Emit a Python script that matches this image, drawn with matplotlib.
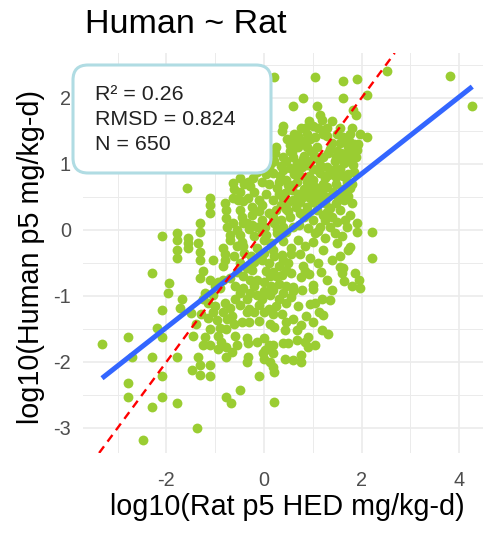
import numpy as np
import matplotlib
matplotlib.use("Agg")
import matplotlib.pyplot as plt
from matplotlib.patches import FancyBboxPatch
from matplotlib.ticker import MultipleLocator

plt.rcParams['font.family'] = ['Liberation Sans', 'DejaVu Sans']
plt.rcParams['axes.unicode_minus'] = False

# log10 values, grouped by human-dose band (top -> bottom)
top_x = [0.21, 1.05, 1.61, 1.90, 2.52, 3.82, 4.27, 0.81, 1.61, 2.11, 0.60, 1.08, 1.82, 1.89,
         1.15, 1.18, 0.38, 1.01, 1.22, 1.76, 1.97, 2.11, 0.36, 0.70, 0.78, 1.20, 1.39, 1.56,
         1.66, 0.88, 0.95, 0.62]
top_y = [2.31, 2.31, 2.25, 2.28, 2.40, 2.33, 1.87, 2.00, 2.00, 2.05, 1.87, 1.87, 1.82, 1.74,
         1.74, 1.67, 1.58, 1.57, 1.52, 1.46, 1.46, 1.40, 1.50, 1.43, 1.34, 1.45, 1.31, 1.31,
         1.36, 1.45, 1.38, 1.35]

b1_x = [1.72, 1.91, 1.93, 0.53, 0.53, 0.88, 0.97, 1.02, 0.23, 0.39, 0.15, 0.60, 0.67, 0.54,
        1.31, 1.47, 1.58, 1.76, 0.88, 1.00, 1.15, 1.83, 0.05, 0.10, 0.35, 0.80, 1.10, 1.65,
        1.30, 0.72, 1.45, 0.25]
b1_y = [1.26, 1.21, 1.30, 1.28, 1.20, 1.26, 1.20, 1.14, 1.17, 1.10, 1.02, 1.11, 1.02, 0.94,
        1.17, 1.10, 1.17, 1.17, 0.98, 0.92, 0.98, 0.98, 1.15, 0.95, 0.97, 1.07, 1.08, 1.02,
        0.95, 0.93, 0.93, 1.25]

b2_x = [1.85, 0.18, 0.32, 0.46, 0.74, 0.88, 1.00, 1.31, 1.47, 1.62, 1.70, 1.76, -0.49, -0.33,
        -0.22, -0.05, 0.05, -0.64, -0.40, -0.29, 1.20, 0.60, 0.27, 0.57, 0.88, 1.05, -0.15,
        1.15, -1.58, -0.62]
b2_y = [0.88, 0.86, 0.81, 0.76, 0.81, 0.73, 0.76, 0.83, 0.80, 0.81, 0.73, 0.63, 0.78, 0.72,
        0.78, 0.72, 0.85, 0.71, 0.70, 0.66, 0.70, 0.68, 0.64, 0.61, 0.61, 0.65, 0.88, 0.86,
        0.63, 0.62]

b3_x = [0.43, 1.21, 1.42, 1.52, 0.18, 0.35, 0.49, 0.74, 0.88, 1.00, 1.25, 1.35, 1.65, 1.80,
        -0.64, -0.54, -0.43, -0.33, -0.11, -0.05, -0.80, -1.11, -1.11, -0.25, 0.05, -0.20,
        0.70, 1.05, 0.30, 1.60, -0.50, 0.95]
b3_y = [0.56, 0.53, 0.58, 0.50, 0.45, 0.38, 0.42, 0.42, 0.35, 0.42, 0.41, 0.33, 0.45, 0.40,
        0.48, 0.46, 0.44, 0.48, 0.45, 0.38, 0.40, 0.48, 0.38, 0.35, 0.55, 0.58, 0.55, 0.55,
        0.55, 0.58, 0.58, 0.48]

b4_x = [0.18, 0.35, 0.53, 0.74, 0.88, 1.00, 1.29, 1.40, 1.49, 1.66, 1.76, -0.49, -0.46, -0.43,
        -0.25, -0.25, -0.10, -0.05, 0.02, -0.78, -0.78, -0.76, -1.11, -0.64, -0.30, 0.60, 0.27,
        0.90, 1.15, 1.90, -1.31, 0.10, 1.20, 0.50]
b4_y = [0.20, 0.15, 0.20, 0.25, 0.30, 0.15, 0.27, 0.20, 0.12, 0.15, 0.22, 0.30, 0.20, 0.11,
        0.22, 0.08, 0.28, 0.15, 0.05, 0.30, 0.18, 0.05, 0.25, 0.10, 0.02, 0.05, 0.02, 0.03,
        0.05, 0.10, 0.10, 0.25, 0.22, 0.28]

b5_x = [-0.70, -0.70, -0.49, -0.45, -0.43, -0.20, 0.00, 0.15, 0.40, 0.70, 1.00, 1.25, 1.76,
        -1.56, -1.35, -0.84, -0.15, 0.55, 0.85, 1.50, -1.55, 0.45, 1.45, 1.91, -0.55, 0.27,
        -2.10, -1.79, -1.79, 2.21, -1.31, 1.10, -0.05]
b5_y = [-0.08, -0.15, -0.08, -0.18, -0.25, -0.10, -0.15, -0.20, -0.17, -0.15, -0.18, -0.12,
        -0.26, -0.20, -0.20, -0.27, -0.28, -0.28, -0.25, -0.20, -0.13, -0.03, -0.05, -0.03,
        0.00, -0.05, -0.10, -0.05, -0.15, -0.03, -0.03, -0.02, -0.02]

b6_x = [1.72, -0.80, -0.80, -1.31, -1.31, 0.18, 0.37, 0.55, 0.74, 0.95, 1.21, -0.27, -0.20,
        -0.05, 0.10, 0.30, 0.50, 0.80, 1.10, 1.40, 1.56, -0.50, -0.35, -1.56, -1.79, -1.78,
        1.56, 2.21, 1.63, -0.84, -0.62, 0.00, -1.05]
b6_y = [-0.30, -0.36, -0.45, -0.33, -0.45, -0.30, -0.38, -0.36, -0.36, -0.42, -0.30, -0.40,
        -0.48, -0.45, -0.50, -0.55, -0.50, -0.55, -0.50, -0.45, -0.56, -0.50, -0.58, -0.27,
        -0.30, -0.42, -0.40, -0.43, -0.58, -0.55, -0.40, -0.35, -0.45]

b7_x = [-1.31, -1.11, -0.95, -0.84, -0.70, -1.00, -0.90, -0.55, -0.42, -0.29, -0.15, 0.00,
        0.12, 0.18, 0.37, 0.55, 0.76, 0.93, 1.17, 1.29, 1.60, 1.65, 1.80, -0.60, -0.20, 0.30,
        0.60, 1.00, 1.87, 1.94, -2.30, -1.94, -1.25, -0.42, 0.85]
b7_y = [-0.73, -0.76, -0.79, -0.76, -0.73, -0.85, -0.88, -0.64, -0.70, -0.76, -0.76, -0.79,
        -0.70, -0.64, -0.68, -0.66, -0.72, -0.67, -0.64, -0.76, -0.65, -0.78, -0.85, -0.85,
        -0.85, -0.82, -0.86, -0.84, -0.66, -0.76, -0.65, -0.80, -0.62, -0.88, -0.62]

b8_x = [1.96, -0.29, -0.15, 0.00, 0.12, 0.18, 0.40, 0.60, 0.78, 1.00, 1.35, 1.39, 1.19, 1.05,
        -1.72, -1.15, -1.00, -0.80, -0.60, -0.50, -0.30, -0.10, 0.10, 0.25, 0.45, 0.70, 0.95,
        -1.97, -1.69, -0.70, 0.55, -1.20]
b8_y = [-0.88, -0.95, -0.98, -0.93, -0.98, -0.91, -0.96, -0.93, -0.91, -0.90, -1.06, -0.91,
        -1.04, -1.11, -1.18, -1.10, -1.15, -1.10, -1.05, -1.14, -1.20, -1.14, -1.20, -1.15,
        -1.10, -1.15, -1.12, -0.96, -1.04, -1.18, -1.02, -0.95]

b9_x = [-2.10, -1.50, -1.30, -1.15, -1.04, -0.97, -0.90, -0.65, -0.62, -0.35, -0.20, 0.00,
        -0.30, -0.10, 0.12, 0.18, 0.37, 0.60, 0.75, 0.87, 1.00, 1.12, 0.20, 0.45, 1.22, -2.20,
        -0.77, -1.40]
b9_y = [-1.21, -1.26, -1.28, -1.33, -1.24, -1.36, -1.48, -1.30, -1.42, -1.25, -1.24, -1.25,
        -1.40, -1.38, -1.42, -1.28, -1.28, -1.35, -1.44, -1.30, -1.40, -1.25, -1.47, -1.40,
        -1.29, -1.49, -1.50, -1.42]

b10_x = [1.19, 1.32, 0.91, 0.91, 0.67, 0.67, 0.50, 0.43, 0.19, -0.01, 0.02, 0.19, -0.32,
         -0.32, -0.77, -0.77, -1.35, -1.79, -2.30, -2.71, -2.78, -3.32, -2.10, -1.11, -0.95,
         -0.88, -0.66, -0.35, -0.15, 0.00, 0.10, 0.00, 0.40, 0.85, 1.05, 0.43, 0.60, 0.75,
         -1.45, -1.20]
b10_y = [-1.52, -1.57, -1.62, -1.77, -1.52, -1.67, -1.72, -1.52, -1.87, -1.87, -1.82, -1.75,
         -1.72, -1.92, -1.92, -1.77, -1.92, -1.92, -1.92, -1.92, -1.62, -1.73, -1.62, -1.74,
         -1.80, -1.70, -1.85, -1.64, -1.70, -1.64, -1.74, -1.96, -1.72, -1.70, -1.75, -1.95,
         -1.97, -1.90, -1.60, -1.62]

low_x = [-0.10, 0.21, -0.49, -0.77, -0.68, -1.11, -1.11, -1.31, -1.31, -1.48, -1.38, -1.79,
         -2.10, -2.10, -2.30, -2.49, -2.78, -2.78, 0.18, 0.20, -0.35, 0.12, 0.75]
low_y = [-2.22, -2.61, -2.42, -2.53, -2.63, -2.22, -2.05, -2.20, -2.05, -2.12, -3.00, -2.63,
         -2.22, -2.53, -2.68, -3.18, -2.32, -2.53, -2.08, -2.15, -2.00, -2.00, -2.00]

# overplotted points in the dense upper-right core
core_hi_x = [0.45, 0.58, 0.70, 0.82, 0.95, 1.08, 1.22, 1.35, 1.50, 1.62, 0.40, 0.62, 0.78, 0.92,
             1.10, 1.25, 1.40, 1.55, 1.72, 0.30, 0.50, 0.68, 0.82, 0.98, 1.12, 1.30, 1.48, 1.62,
             1.80, 0.40, 0.60, 0.80, 0.95, 1.12, 1.30, 1.48, 1.72, 0.25, 0.45, 0.65, 0.82, 1.08,
             1.25, 1.55, 1.70, 0.38, 0.72, 1.05, 1.35, 1.60, 0.62, 0.85, 1.05, 1.30, 0.48, 0.92,
             1.45, 1.75, 0.20, 0.10, 1.50, 1.62, 1.75, 1.85, 1.55, 1.30, 1.70, 1.88, 1.40, 1.10,
             0.75, 1.80]
core_hi_y = [1.05, 1.18, 1.25, 1.12, 1.05, 1.25, 1.10, 1.22, 1.20, 1.08, 0.90, 0.85, 0.95, 0.82,
             0.90, 0.78, 0.85, 0.92, 0.85, 0.72, 0.68, 0.72, 0.62, 0.68, 0.60, 0.65, 0.70, 0.62,
             0.70, 0.48, 0.45, 0.50, 0.58, 0.45, 0.50, 0.40, 0.52, 0.30, 0.32, 0.35, 0.20, 0.30,
             0.15, 0.30, 0.05, 0.05, 0.08, -0.05, 0.05, -0.10, 1.45, 1.55, 1.40, 1.42, 1.38, 1.65,
             1.05, 1.05, 1.05, 0.70, 1.45, 1.40, 1.35, 1.30, 1.55, 1.55, 1.15, 1.10, 1.65, 1.55,
             1.55, 1.55]

# overplotted points in the middle and lower-left core
core_lo_x = [-0.35, -0.15, 0.05, 0.20, 0.35, -0.40, -0.10, 0.20, 0.40, -0.55, -0.25, 0.05,
             0.25, 0.45, -0.05, 0.30, -0.35, 0.15, -0.50, 0.45, -1.25, -1.05, -0.85, -0.75,
             -1.10, -0.95, -0.60, -0.55, -1.25, -0.45]
core_lo_y = [0.10, 0.05, -0.08, 0.10, -0.10, -0.35, -0.40, -0.40, -0.45, -0.25, -0.60, -0.62,
             -0.70, -0.60, -1.05, -1.05, -1.05, -0.85, -0.95, -0.85, -1.05, -0.98, -1.25, -1.35,
             -1.50, -1.60, -1.60, -1.75, -1.75, -1.40]

rat = np.array(top_x + b1_x + b2_x + b3_x + b4_x + b5_x + b6_x + b7_x + b8_x + b9_x + b10_x
               + low_x + core_hi_x + core_lo_x)
human = np.array(top_y + b1_y + b2_y + b3_y + b4_y + b5_y + b6_y + b7_y + b8_y + b9_y + b10_y
                 + low_y + core_hi_y + core_lo_y)

stats_lines = ["R\u00b2 = 0.26", "RMSD = 0.824", "N = 650"]

fig = plt.figure(figsize=(4.83, 5.42), dpi=100)
ax = fig.add_axes([83 / 483, 89 / 542, 400 / 483, 400 / 542])
ax.set_xlim(-3.71, 4.49)
ax.set_ylim(-3.38, 2.68)

ax.xaxis.set_major_locator(MultipleLocator(2))
ax.xaxis.set_minor_locator(MultipleLocator(1))
ax.yaxis.set_major_locator(MultipleLocator(1))
ax.yaxis.set_minor_locator(MultipleLocator(0.5))
ax.grid(which='major', color='#EBEBEB', lw=1.2)
ax.grid(which='minor', color='#EBEBEB', lw=0.7)
ax.set_axisbelow(True)
for s in ax.spines.values():
    s.set_visible(False)
ax.tick_params(which='both', length=0)
ax.tick_params(axis='x', pad=13, labelsize=14.3, labelcolor='#4D4D4D')
ax.tick_params(axis='y', pad=8.6, labelsize=14.3, labelcolor='#4D4D4D')

ax.scatter(rat, human, s=50, color='#9ACD32', linewidths=0, zorder=2)

# least-squares fit, drawn over the data range
slope, intercept = np.polyfit(rat, human, 1)
xs = np.array([rat.min(), rat.max()])
ax.plot(xs, intercept + slope * xs, color='#3366FF', lw=3.6, solid_capstyle='butt', zorder=3)
# identity line
ax.axline((0, 0), slope=1, color='red', lw=1.7, dashes=(3.5, 2.5), zorder=4)

ax.set_xlabel('log10(Rat p5 HED mg/kg-d)', fontsize=20.7)
ax.xaxis.set_label_coords(0.51, -0.155)
ax.xaxis.label.set_va('baseline')
ax.set_ylabel('log10(Human p5 mg/kg-d)', fontsize=20.7)
ax.yaxis.set_label_coords(-0.131, 0.49)
ax.yaxis.label.set_va('center')

fig.text(85 / 483, 1 - 33 / 542, 'Human ~ Rat', fontsize=24.5, va='baseline')

box = FancyBboxPatch((0.73, 3.69), 1.98, 1.08, boxstyle='round,pad=0,rounding_size=0.15',
                     transform=fig.dpi_scale_trans, facecolor='white',
                     edgecolor='#B0DCE3', lw=2.2, zorder=5)
fig.add_artist(box)
for line, base in zip(stats_lines, [99.5, 125, 149.5]):
    fig.text(95 / 483, 1 - base / 542, line, fontsize=15.4, color='#222222',
             va='baseline', zorder=6)

fig.savefig('out.png', dpi=100, facecolor='white')
